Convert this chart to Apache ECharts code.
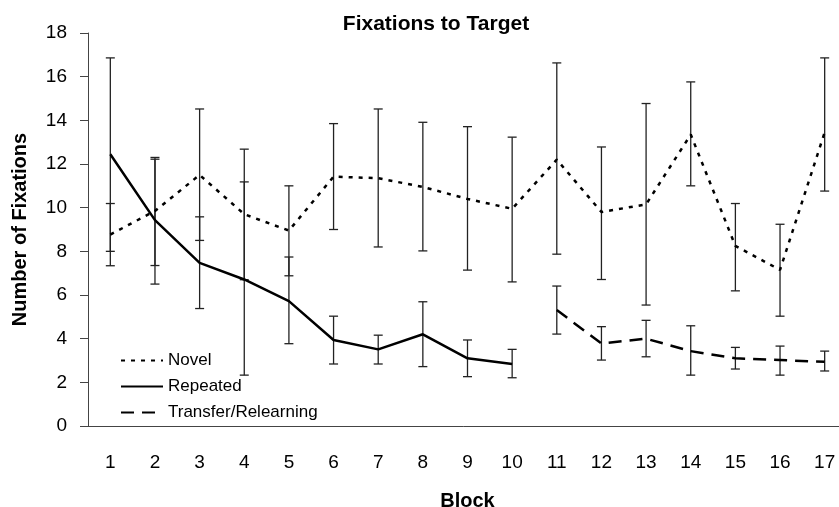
<!DOCTYPE html>
<html>
<head>
<meta charset="utf-8">
<script src="https://cdn.jsdelivr.net/npm/echarts@6/dist/echarts.min.js"></script>
<style>
html,body{margin:0;padding:0;background:#fff;}
#chart{width:839px;height:507px;}
</style>
</head>
<body>
<div id="chart"></div>
<script>
// blocks on the x axis
var blocks = ['1','2','3','4','5','6','7','8','9','10','11','12','13','14','15','16','17'];
var yTicks = [0, 18, 2]; // min, max, step

// Novel (dotted)
var novelMean = [8.77, 9.85, 11.5, 9.7, 8.95, 11.42, 11.35, 10.95, 10.4, 9.95, 12.2, 9.8, 10.15, 13.35, 8.25, 7.15, 13.45];
var novelHigh = [10.19, 12.3, 14.52, 12.68, 11.0, 13.85, 14.52, 13.91, 13.71, 13.23, 16.63, 12.78, 14.77, 15.76, 10.19, 9.24, 16.86];
var novelLow  = [7.34, 7.35, 8.5, 6.7, 6.88, 9.0, 8.2, 8.02, 7.14, 6.6, 7.87, 6.71, 5.54, 11.0, 6.19, 5.03, 10.76];

// Repeated (solid), blocks 1-10
var repMean = [12.45, 9.43, 7.47, 6.71, 5.72, 3.94, 3.51, 4.2, 3.1, 2.84, null, null, null, null, null, null, null];
var repHigh = [16.86, 12.22, 9.58, 11.18, 7.74, 5.03, 4.16, 5.69, 3.94, 3.51];
var repLow  = [8.0, 6.5, 5.38, 2.33, 3.77, 2.84, 2.84, 2.72, 2.26, 2.21];

// Transfer/Relearning (dashed), blocks 11-17
var trMean = [null, null, null, null, null, null, null, null, null, null, 5.31, 3.78, 4.0, 3.43, 3.1, 3.02, 2.94];
var trHigh = [6.41, 4.55, 4.84, 4.59, 3.6, 3.66, 3.43];
var trLow  = [4.21, 3.02, 3.17, 2.33, 2.61, 2.33, 2.52];

var FONT = "'Liberation Sans', Arial, sans-serif";
var chart = echarts.init(document.getElementById('chart'));

// [blockIndex, low, high] rows for the error bars
function errRows(lows, highs, start){
	var rows = [];
	for (var i = 0; i < lows.length; i++) {
		rows.push([start + i, lows[i], highs[i]]);
	}
	return rows;
}

function renderErr(params, api){
	var x = api.value(0);
	var lo = api.coord([x, api.value(1)]);
	var hi = api.coord([x, api.value(2)]);
	var w = 4.5;
	var st = {stroke: '#222', lineWidth: 1.3};
	return {
		type: 'group',
		children: [
			{type: 'line', shape: {x1: hi[0], y1: hi[1], x2: lo[0], y2: lo[1]}, style: st},
			{type: 'line', shape: {x1: hi[0] - w, y1: hi[1], x2: hi[0] + w, y2: hi[1]}, style: st},
			{type: 'line', shape: {x1: lo[0] - w, y1: lo[1], x2: lo[0] + w, y2: lo[1]}, style: st}
		]
	};
}

function errSeries(name, rows){
	return {
		name: name,
		type: 'custom',
		renderItem: renderErr,
		encode: {x: 0, y: [1, 2]},
		data: rows,
		z: 1,
		silent: true
	};
}

var option = {
	animation: false,
	backgroundColor: '#fff',
	title: {
		text: 'Fixations to Target',
		left: 431,
		top: 9,
		textAlign: 'center',
		textStyle: {fontFamily: FONT, fontSize: 21, fontWeight: 'bold', color: '#000'}
	},
	legend: {
		data: ['Novel', 'Repeated', 'Transfer/Relearning'],
		orient: 'vertical',
		left: 115,
		top: 347,
		itemWidth: 42,
		itemHeight: 17,
		itemGap: 9,
		itemStyle: {opacity: 0},
		textStyle: {fontFamily: FONT, fontSize: 17, color: '#000'}
	},
	grid: {left: 88, top: 33, width: 759, height: 393, outerBoundsMode: 'none', containLabel: false},
	xAxis: {
		type: 'category',
		data: blocks,
		boundaryGap: true,
		name: 'Block',
		nameLocation: 'middle',
		nameGap: 65,
		nameTextStyle: {fontFamily: FONT, fontSize: 20, fontWeight: 'bold', color: '#000'},
		axisLine: {lineStyle: {color: '#444', width: 1}},
		axisTick: {length: 7, lineStyle: {color: '#444'}},
		axisLabel: {fontFamily: FONT, fontSize: 19, color: '#000', margin: 27},
		splitLine: {show: false}
	},
	yAxis: {
		type: 'value',
		min: yTicks[0],
		max: yTicks[1],
		interval: yTicks[2],
		name: 'Number of Fixations',
		nameLocation: 'middle',
		nameGap: 58,
		nameTextStyle: {fontFamily: FONT, fontSize: 20, fontWeight: 'bold', color: '#000'},
		axisLine: {show: true, lineStyle: {color: '#444', width: 1}},
		axisTick: {show: true, length: 8, lineStyle: {color: '#444'}},
		axisLabel: {fontFamily: FONT, fontSize: 19, color: '#000', margin: 21},
		splitLine: {show: false}
	},
	series: [
		errSeries('novelErr', errRows(novelLow, novelHigh, 0)),
		errSeries('repErr', errRows(repLow, repHigh, 0)),
		errSeries('trErr', errRows(trLow, trHigh, 10)),
		{
			name: 'Novel',
			type: 'line',
			data: novelMean,
			symbol: 'none',
			z: 3,
			lineStyle: {color: '#000', width: 2.5, type: [4, 6]},
			itemStyle: {color: '#000'}
		},
		{
			name: 'Repeated',
			type: 'line',
			data: repMean,
			symbol: 'none',
			z: 3,
			lineStyle: {color: '#000', width: 2.5, type: 'solid'},
			itemStyle: {color: '#000'}
		},
		{
			name: 'Transfer/Relearning',
			type: 'line',
			data: trMean,
			symbol: 'none',
			z: 3,
			lineStyle: {color: '#000', width: 2.5, type: [13, 8]},
			itemStyle: {color: '#000'}
		}
	]
};

chart.setOption(option);
</script>
</body>
</html>
